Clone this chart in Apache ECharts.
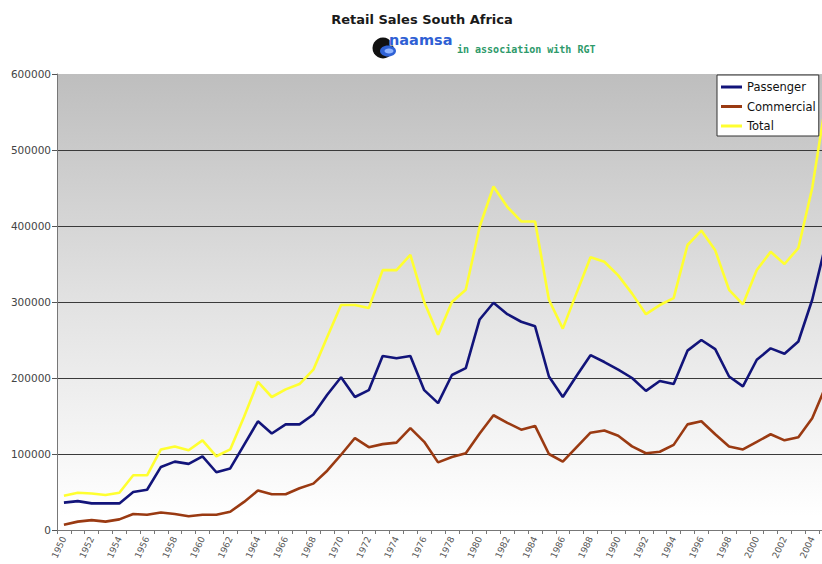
<!DOCTYPE html>
<html><head><meta charset="utf-8">
<script src="https://cdn.jsdelivr.net/npm/echarts@6/dist/echarts.min.js"></script>
<style>html,body{margin:0;padding:0;overflow:hidden;background:#fff}#c{width:834px;height:564px}</style>
</head><body><div id="c"></div>
<script>
const years = ['1950','1951','1952','1953','1954','1955','1956','1957','1958','1959',
  '1960','1961','1962','1963','1964','1965','1966','1967','1968','1969',
  '1970','1971','1972','1973','1974','1975','1976','1977','1978','1979',
  '1980','1981','1982','1983','1984','1985','1986','1987','1988','1989',
  '1990','1991','1992','1993','1994','1995','1996','1997','1998','1999',
  '2000','2001','2002','2003','2004','2005'];
const passenger = [36000,38000,35000,35000,35000,50000,53000,83000,90000,87000,
  97000,76000,81000,112000,143000,127000,139000,139000,152000,178000,
  201000,175000,184000,229000,226000,229000,184000,167000,204000,213000,
  277000,299000,284000,274000,268000,202000,175000,203000,230000,221000,
  211000,200000,183000,196000,192000,236000,250000,238000,202000,189000,
  224000,239000,232000,248000,303000,378000];
const commercial = [7000,11000,13000,11000,14000,21000,20000,23000,21000,18000,
  20000,20000,24000,37000,52000,47000,47000,55000,61000,78000,
  99000,121000,109000,113000,115000,134000,116000,89000,96000,101000,
  127000,151000,141000,132000,137000,100000,90000,109000,128000,131000,
  124000,110000,101000,103000,112000,139000,143000,126000,110000,106000,
  116000,126000,118000,122000,147000,190000];
const total = [45000,49000,48000,46000,49000,72000,72000,106000,110000,105000,
  118000,97000,106000,149000,195000,175000,185000,192000,211000,254000,
  296000,296000,292000,342000,342000,362000,300000,257000,300000,316000,
  399000,452000,425000,406000,406000,303000,265000,312000,359000,353000,
  335000,311000,284000,296000,305000,375000,394000,368000,316000,297000,
  342000,366000,350000,371000,450000,565000];
const yTicks = [0,100000,200000,300000,400000,500000,600000];
const seriesNames = ['Passenger','Commercial','Total'];
const seriesColors = ['#12147a','#9a3a12','#ffff30'];
const titleText = 'Retail Sales South Africa';
const logoText = 'naamsa';
const assocText = 'in association with RGT';

const chart = echarts.init(document.getElementById('c'), null, {renderer:'svg'});
const dataSets = [passenger, commercial, total];
chart.setOption({
  backgroundColor:'#ffffff',
  animation:false,
  grid:{left:57, top:74, right:1, bottom:34, show:true, borderWidth:0,
    backgroundColor:{type:'linear',x:0,y:0,x2:0,y2:1,colorStops:[{offset:0,color:'#bebebe'},{offset:0.5,color:'#e2e2e2'},{offset:0.97,color:'#ffffff'},{offset:1,color:'#ffffff'}]}},
  legend:{orient:'vertical', left:717, top:75, padding:[5,3,3,4], itemGap:5.5,
    itemWidth:21, itemHeight:3, icon:'rect',
    backgroundColor:'#ffffff', borderColor:'#333', borderWidth:1,
    textStyle:{fontFamily:'DejaVu Sans', fontSize:11.5, color:'#111', lineHeight:14},
    data:seriesNames},
  xAxis:{type:'category', data:years, boundaryGap:true,
    axisLine:{lineStyle:{color:'#777',width:1}},
    axisTick:{show:true, interval:0, length:4, lineStyle:{color:'#777'}},
    axisLabel:{interval:1, rotate:65, fontSize:9, fontFamily:'DejaVu Sans', color:'#555', margin:7},
    splitLine:{show:false}},
  yAxis:{type:'value', min:yTicks[0], max:yTicks[yTicks.length-1], interval:yTicks[1]-yTicks[0],
    axisLine:{show:true, lineStyle:{color:'#777',width:1}},
    axisTick:{show:true, length:5, lineStyle:{color:'#555'}},
    axisLabel:{fontSize:10.5, fontFamily:'DejaVu Sans', color:'#444', margin:6, formatter:v=>String(v)},
    splitLine:{show:true, lineStyle:{color:['#777','#3a3a3a','#3a3a3a','#3a3a3a','#3a3a3a','#3a3a3a','rgba(0,0,0,0)'], width:1.2}}},
  series: seriesNames.map((n,i)=>({name:n, type:'line', data:dataSets[i], showSymbol:false, symbol:'none',
    lineStyle:{color:seriesColors[i], width:2.6}, itemStyle:{color:seriesColors[i]}, z:3})),
  graphic:[
    {type:'text', x:422, y:13, style:{text:titleText, fontFamily:'DejaVu Sans', fontWeight:'bold', fontSize:13, fill:'#1a1a1a', textAlign:'center', textVerticalAlign:'top'}},
    {type:'circle', x:383, y:48, shape:{cx:0,cy:0,r:10.5}, style:{fill:'#111'}},
    {type:'ellipse', x:388, y:51, shape:{cx:0,cy:0,rx:8,ry:5.5}, style:{fill:'#2f62d6'}},
    {type:'ellipse', x:389, y:51, shape:{cx:0,cy:0,rx:4.5,ry:2.5}, style:{fill:'#8fb4ff'}},
    {type:'text', x:389, y:32, style:{text:logoText, fontFamily:'DejaVu Sans', fontWeight:'bold', fontSize:14.5, fill:'#2f5fd4', stroke:'#ffffff', lineWidth:1, textAlign:'left', textVerticalAlign:'top'}},
    {type:'text', x:457, y:44, style:{text:assocText, fontFamily:'DejaVu Sans Mono', fontWeight:'bold', fontSize:10, fill:'#2e9a6a', textAlign:'left', textVerticalAlign:'top'}}
  ]
});
</script></body></html>
